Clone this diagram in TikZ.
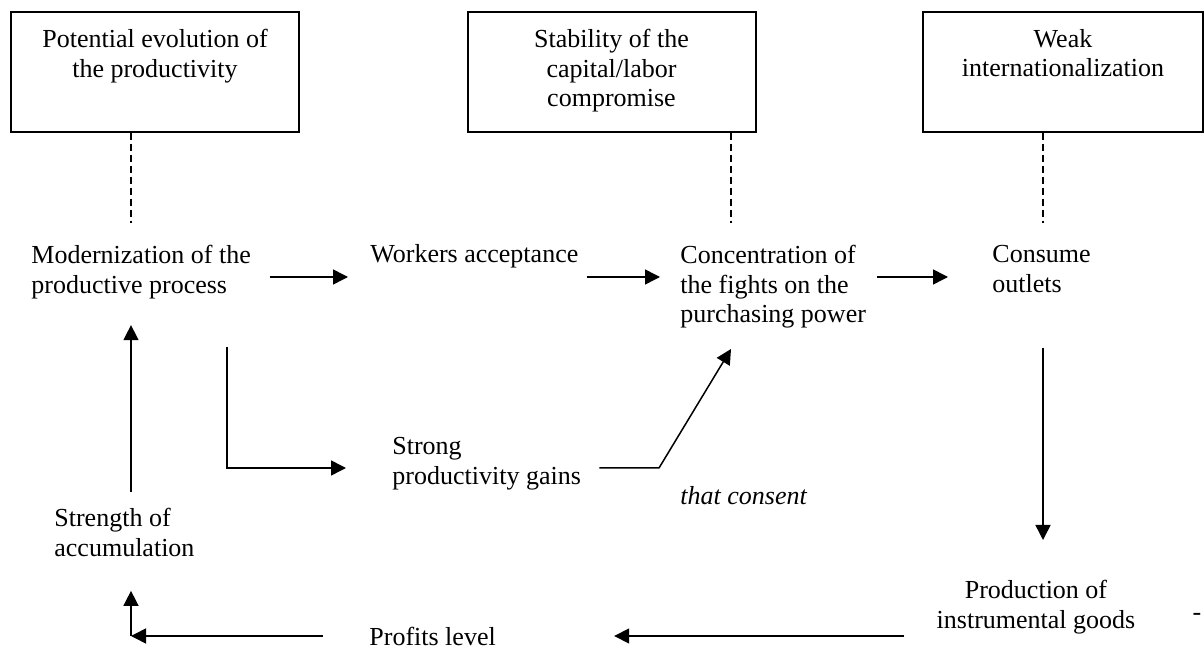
\documentclass[tikz,border=0pt]{standalone}
\usepackage{fontspec}
\setmainfont{Liberation Serif}
\usepackage{tikz}
\usetikzlibrary{arrows.meta, positioning, calc}

\begin{document}
\begin{tikzpicture}
  [
    x=0.5pt, y=-0.5pt,
    font=\fontsize{13}{14.75}\selectfont,
    Box/.style={rectangle, draw=black, line width=1pt, minimum width=144pt, minimum height=60pt, inner sep=0pt},
    BoxText/.style={anchor=north, align=center, inner sep=0pt, yshift=-9pt},
    Plain/.style={anchor=north west, align=left, inner sep=0pt},
    Arrow/.style={-{Triangle[length=7.5pt, width=7.5pt]}, line width=0.75pt},
    Link/.style={dash pattern=on 3.5pt off 2pt, line width=0.75pt}
  ]
  \useasboundingbox (0,0) rectangle (1204,651);
  % Boxes
  \node[Box, label={[BoxText]north:{Potential evolution of\\the productivity}}] (potential) at (155,72) {};
  \node[Box, label={[BoxText]north:{Stability of the\\capital/labor\\compromise}}] (stability) at (611.5,72) {};
  \node[Box, minimum width=140pt, label={[BoxText]north:{Weak\\internationalization}}] (weak) at (1063,72) {};
  % Nodes
  \node[Plain] (modern) at (31,245) {Modernization of the\\productive process};
  \node[Plain] (workers) at (370,244) {Workers acceptance};
  \node[Plain] (concent) at (680,245) {Concentration of\\the fights on the\\purchasing power};
  \node[Plain] (consume) at (992,245) {Consume\\outlets};
  \node[Plain] (strong) at (392,437) {Strong\\productivity gains};
  \node[Plain] (consent) at (680,486) {\textit{that consent}};
  \node[Plain] (strength) at (54,508) {Strength of\\accumulation};
  \node[Plain, anchor=north, align=center] (produc) at (1036,580) {Production of\\instrumental goods};
  \node[Plain] (profits) at (369,627) {Profits level};
  \node[inner sep=0pt, anchor=base] (mark) at (1197,620) {-};
  % Helpers
  \coordinate (colA) at (131,0);
  \coordinate (colB) at (227,0);
  \coordinate (colC) at (731,0);
  \coordinate (colD) at (1043,0);
  \coordinate (ends) at (0,223);
  \coordinate (rowA) at (0,277);
  \coordinate (rowB) at (0,468);
  \coordinate (rowE) at (0,636);
  \coordinate (kink) at (659,468);
  \coordinate (tipC) at (731,349);
  % Dashed links
  \draw[Link] (potential.south -| colA) -- (colA |- ends);
  \draw[Link] (stability.south -| colC) -- (colC |- ends);
  \draw[Link] (weak.south -| colD) -- (colD |- ends);
  % Lines
  \draw[Arrow, shorten <=9.5pt, shorten >=11pt] (modern.east |- rowA) -- (workers.west |- rowA);
  \draw[Arrow, shorten <=4pt, shorten >=10pt] (workers.east |- rowA) -- (concent.west |- rowA);
  \draw[Arrow, shorten <=5.5pt, shorten >=22pt] (concent.east |- rowA) -- (consume.west |- rowA);
  \draw[Arrow, shorten <=8pt, shorten >=13pt] (strength.north -| colA) -- (modern.south -| colA);
  \draw[Arrow, shorten >=23pt] ($(modern.south -| colB)+(0,48)$) |- (strong.west |- rowB);
  \draw[Arrow, shorten <=9pt] (strong.east |- rowB) -- (kink) -- (tipC);
  \draw[Arrow, shorten <=27.5pt, shorten >=20pt] (consume.south -| colD) -- (produc.north -| colD);
  \draw[Arrow, shorten <=16pt, shorten >=59pt] (produc.west |- rowE) -- (profits.east |- rowE);
  \draw[Arrow, shorten <=23pt] (profits.west |- rowE) -- (colA |- rowE);
  \draw[Arrow, shorten >=17pt] (colA |- rowE) -- (strength.south -| colA);
\end{tikzpicture}
\end{document}
